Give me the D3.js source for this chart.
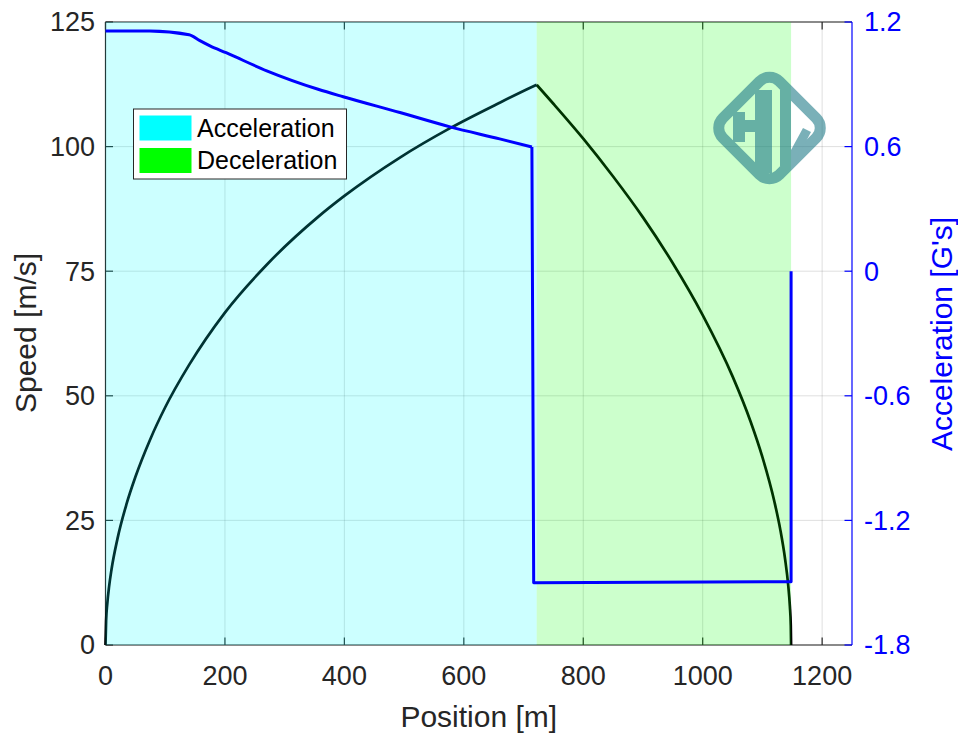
<!DOCTYPE html>
<html>
<head>
<meta charset="utf-8">
<script src="https://cdn.jsdelivr.net/npm/d3@7"></script>
<style>
body{margin:0;background:#fff}
text{font-family:"Liberation Sans",Arial,Helvetica,sans-serif}
</style>
</head>
<body>
<svg id="chart"></svg>
<script>
var width = 958, height = 735;
var m = {left:105.5, right:852, top:22, bottom:645};

// speed during the acceleration phase [m] -> [m/s]
var accPos   = [0, 1, 3, 6, 10, 20, 35, 50, 75, 100, 140, 200, 270, 356, 400, 493, 577, 660, 713, 722];
var accSpeed = [0, 4.8, 8.3, 11.7, 15.1, 21.3, 28.2, 33.7, 41.3, 47.7, 56.2, 66.7, 76.3, 85.9, 90.1, 97.8, 103.7, 108.8, 111.9, 112.4];
// speed during the braking phase
var decPos   = [722, 750, 800, 850, 900, 950, 1000, 1050, 1080, 1100, 1120, 1130, 1138, 1143, 1146, 1147.5, 1148];
var decSpeed = [112.4, 108.6, 101.6, 94.0, 85.8, 76.6, 66.2, 53.9, 44.9, 37.7, 28.8, 23.1, 17.2, 12.2, 7.7, 3.9, 0];
// acceleration [G's], full-throttle part
var gPos = [0, 74, 140, 158, 175, 202, 270, 356, 398, 493, 577, 660, 714];
var gVal = [1.157, 1.157, 1.139, 1.11, 1.085, 1.052, 0.965, 0.876, 0.840, 0.764, 0.695, 0.637, 0.598];
// acceleration [G's], braking part
var gBrakePos = [714, 717, 1148, 1148];
var gBrakeVal = [0.598, -1.5, -1.495, 0];

var phaseNames  = ["Acceleration", "Deceleration"];
var phaseStart  = [0, 722];
var phaseEnd    = [722, 1148];
var phaseColors = ["#00ffff", "#00ff00"];

var xTicks = [0, 200, 400, 600, 800, 1000, 1200];
var speedTicks = [0, 25, 50, 75, 100, 125];
var gTicks = [-1.8, -1.2, -0.6, 0, 0.6, 1.2];

var svg = d3.select("#chart").attr("width", width).attr("height", height);

var x = d3.scaleLinear().domain([0, 1250]).range([m.left, m.right]);
var y = d3.scaleLinear().domain([0, 125]).range([m.bottom, m.top]);
var y2 = d3.scaleLinear().domain([-1.8, 1.2]).range([m.bottom, m.top]);

var ink = "#262626";
var tl = 7.5; // tick length

// grid
var grid = svg.append("g").attr("stroke", ink).attr("stroke-opacity", 0.15).attr("stroke-width", 1);
xTicks.forEach(function(t){
  grid.append("line").attr("x1", x(t)).attr("x2", x(t)).attr("y1", m.top).attr("y2", m.bottom);
});
speedTicks.forEach(function(t){
  grid.append("line").attr("x1", m.left).attr("x2", m.right).attr("y1", y(t)).attr("y2", y(t));
});

// axes: box, ticks inward
var ax = svg.append("g").attr("stroke", ink).attr("stroke-width", 1.2).attr("fill", "none");
ax.append("line").attr("x1", m.left).attr("x2", m.right).attr("y1", m.bottom).attr("y2", m.bottom);
ax.append("line").attr("x1", m.left).attr("x2", m.right).attr("y1", m.top).attr("y2", m.top);
ax.append("line").attr("x1", m.left).attr("x2", m.left).attr("y1", m.top).attr("y2", m.bottom);
xTicks.forEach(function(t){
  ax.append("line").attr("x1", x(t)).attr("x2", x(t)).attr("y1", m.bottom).attr("y2", m.bottom - tl);
  ax.append("line").attr("x1", x(t)).attr("x2", x(t)).attr("y1", m.top).attr("y2", m.top + tl);
});
speedTicks.forEach(function(t){
  ax.append("line").attr("x1", m.left).attr("x2", m.left + tl).attr("y1", y(t)).attr("y2", y(t));
});

// speed line (drawn under the phase patches)
var line = d3.line().x(function(d){ return x(d[0]); }).y(function(d){ return y(d[1]); }).curve(d3.curveMonotoneX);
svg.append("path")
  .datum(accPos.map(function(p, i){ return [p, accSpeed[i]]; }))
  .attr("fill", "none").attr("stroke", "#000").attr("stroke-width", 2.7)
  .attr("d", line);
svg.append("path")
  .datum(decPos.map(function(p, i){ return [p, decSpeed[i]]; }))
  .attr("fill", "none").attr("stroke", "#000").attr("stroke-width", 2.7)
  .attr("d", line);

// phase patches
phaseNames.forEach(function(n, i){
  svg.append("rect")
    .attr("x", x(phaseStart[i])).attr("y", m.top)
    .attr("width", x(phaseEnd[i]) - x(phaseStart[i]))
    .attr("height", m.bottom - m.top)
    .attr("fill", phaseColors[i]).attr("fill-opacity", 0.2);
});

// right axis (blue)
var blue = "#0000ff";
var ax2 = svg.append("g").attr("stroke", blue).attr("stroke-width", 1.2);
ax2.append("line").attr("x1", m.right).attr("x2", m.right).attr("y1", m.top).attr("y2", m.bottom);
gTicks.forEach(function(t){
  ax2.append("line").attr("x1", m.right).attr("x2", m.right - tl).attr("y1", y2(t)).attr("y2", y2(t));
});

// acceleration line
var gLine = d3.line().x(function(d){ return x(d[0]); }).y(function(d){ return y2(d[1]); });
svg.append("path")
  .datum(gPos.map(function(p, i){ return [p, gVal[i]]; }))
  .attr("fill", "none").attr("stroke", blue).attr("stroke-width", 3)
  .attr("stroke-linejoin", "round")
  .attr("d", gLine.curve(d3.curveMonotoneX));
svg.append("path")
  .datum(gBrakePos.map(function(p, i){ return [p, gBrakeVal[i]]; }))
  .attr("fill", "none").attr("stroke", blue).attr("stroke-width", 3)
  .attr("stroke-linejoin", "round")
  .attr("d", gLine.curve(d3.curveLinear));

// tick labels
var fs = 27;
xTicks.forEach(function(t){
  svg.append("text").attr("x", x(t)).attr("y", 685).attr("text-anchor", "middle")
    .attr("font-size", fs).attr("fill", ink).text(t);
});
speedTicks.forEach(function(t){
  svg.append("text").attr("x", 95).attr("y", y(t)).attr("dy", "0.35em").attr("text-anchor", "end")
    .attr("font-size", fs).attr("fill", ink).text(t);
});
gTicks.forEach(function(t){
  svg.append("text").attr("x", 864).attr("y", y2(t)).attr("dy", "0.35em").attr("text-anchor", "start")
    .attr("font-size", fs).attr("fill", blue).text(d3.format(".1~f")(t).replace("\u2212", "-"));
});

// axis labels
svg.append("text").attr("x", (m.left + m.right) / 2).attr("y", 727).attr("text-anchor", "middle")
  .attr("font-size", 30).attr("fill", ink).text("Position [m]");
svg.append("text").attr("transform", "translate(36," + 333 + ") rotate(-90)").attr("text-anchor", "middle")
  .attr("font-size", 30).attr("fill", ink).text("Speed [m/s]");
svg.append("text").attr("transform", "translate(952," + 334 + ") rotate(-90)").attr("text-anchor", "middle")
  .attr("font-size", 30).attr("fill", blue).text("Acceleration [G's]");

// legend
var lg = svg.append("g");
lg.append("rect").attr("x", 133.5).attr("y", 109).attr("width", 213).attr("height", 70)
  .attr("fill", "#fff").attr("stroke", ink).attr("stroke-width", 1);
phaseNames.forEach(function(n, i){
  lg.append("rect").attr("x", 139.5).attr("y", 115.5 + i * 32.5).attr("width", 52).attr("height", 25)
    .attr("fill", phaseColors[i]);
  lg.append("text").attr("x", 197).attr("y", 128 + i * 32.5).attr("dy", "0.35em")
    .attr("font-size", 25).attr("fill", "#000").text(n);
});

// HL watermark
var logo = svg.append("g").attr("opacity", 0.6);
var lc = "#237c8a";
logo.append("rect").attr("x", -40).attr("y", -40).attr("width", 80).attr("height", 80).attr("rx", 14)
  .attr("fill", "none").attr("stroke", lc).attr("stroke-width", 11)
  .attr("transform", "translate(769.5,128) rotate(45)");
logo.append("path").attr("fill", lc)
  .attr("d", "M733,112 H745 V120 H755 V90 H772 V173 H755 V132 H745 V142 H733 Z" +
             "M780,90 H791 V150 L803,128 L811,132 L793,166 H780 Z");
</script>
</body>
</html>
